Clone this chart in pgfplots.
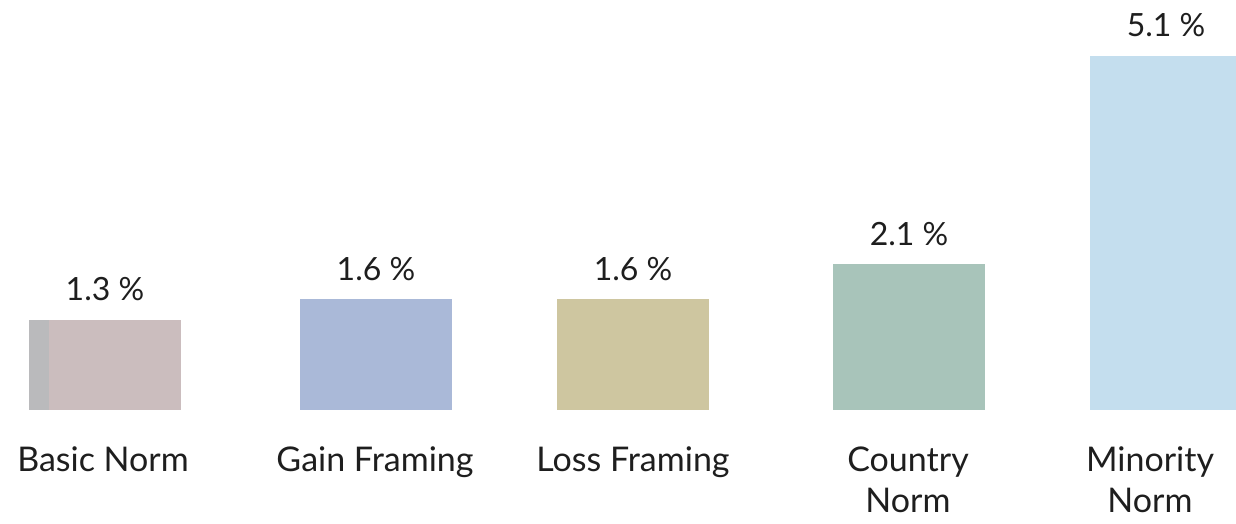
\documentclass[border=0pt]{standalone}
\usepackage{pgfplots}
\pgfplotsset{compat=1.18}
\usepackage{fontspec}
\setmainfont{Lato}
\definecolor{cBasic}{RGB}{203,189,190}
\definecolor{cStrip}{RGB}{186,186,188}
\definecolor{cGain}{RGB}{170,185,216}
\definecolor{cLoss}{RGB}{206,198,160}
\definecolor{cCountry}{RGB}{168,196,186}
\definecolor{cMinority}{RGB}{196,222,238}
\definecolor{txt}{RGB}{30,30,30}
\begin{document}
\begin{tikzpicture}
\begin{axis}[
  name=ax,
  scale only axis,
  width=618pt, height=262pt,
  xmin=0, xmax=1236,
  ymin=-1.640, ymax=5.899,
  axis line style={draw=none},
  tick style={draw=none},
  ytick=\empty,
  xtick={103,375,633,908,1150},
  xticklabels={Basic Norm, Gain Framing, Loss Framing, {Country\\Norm}, {Minority\\Norm}},
  xticklabel style={anchor=north, yshift=46.5pt, align=center, text=txt,
    font={\fontsize{17}{20.5}\selectfont}},
  ybar, bar width=152,
  /pgf/number format/assume math mode=true,
  nodes near coords style={inner sep=0pt, yshift=9pt, text=txt, font={\fontsize{16}{19}\selectfont}},
]
\addplot[fill=cBasic, draw=none, bar shift=0pt,
  nodes near coords={\pgfmathprintnumber[fixed,fixed zerofill,precision=1]{\pgfplotspointmeta} \%}]
  coordinates {(105,1.3)};
\addplot[fill=cStrip, draw=none, bar shift=0pt, bar width=20]
  coordinates {(39,1.3)};
\addplot[fill=cGain, draw=none, bar shift=0pt,
  nodes near coords={\pgfmathprintnumber[fixed,fixed zerofill,precision=1]{\pgfplotspointmeta} \%}]
  coordinates {(376,1.6)};
\addplot[fill=cLoss, draw=none, bar shift=0pt,
  nodes near coords={\pgfmathprintnumber[fixed,fixed zerofill,precision=1]{\pgfplotspointmeta} \%}]
  coordinates {(633,1.6)};
\addplot[fill=cCountry, draw=none, bar shift=0pt,
  nodes near coords={\pgfmathprintnumber[fixed,fixed zerofill,precision=1]{\pgfplotspointmeta} \%}]
  coordinates {(909,2.1)};
\addplot[fill=cMinority, draw=none, bar shift=0pt,
  nodes near coords={\pgfmathprintnumber[fixed,fixed zerofill,precision=1]{\pgfplotspointmeta} \%}]
  coordinates {(1166,5.1)};
\end{axis}
\pgfresetboundingbox
\useasboundingbox (ax.south west) rectangle (ax.north east);
\end{tikzpicture}
\end{document}
